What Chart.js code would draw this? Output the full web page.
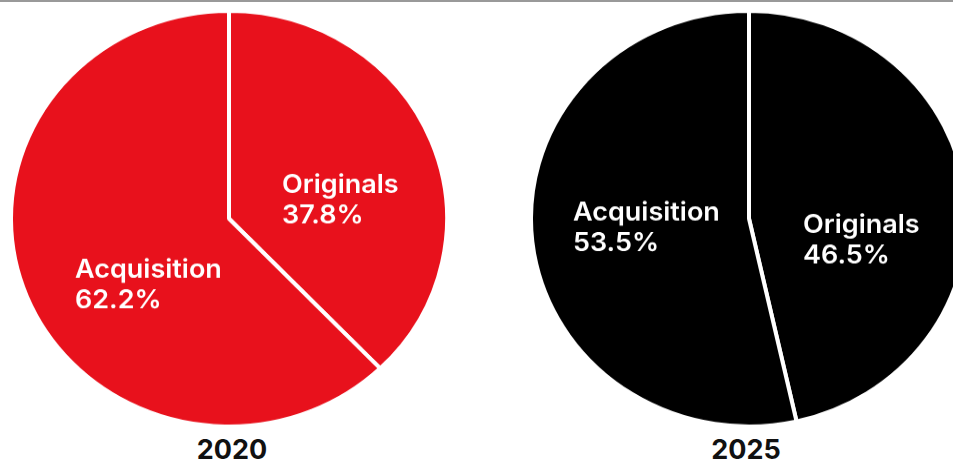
<!DOCTYPE html>
<html>
<head>
<meta charset="utf-8">
<script src="https://cdn.jsdelivr.net/npm/chart.js@4.4.1/dist/chart.umd.min.js"></script>
<style>
  html, body { margin: 0; padding: 0; width: 953px; height: 461px; overflow: hidden; background: #fff; }
  .topline { position: absolute; left: 0; top: 0; width: 953px; height: 2px; background: #999; }
  .pie { position: absolute; top: 9px; width: 440px; height: 440px; transform: scaleY(0.953); transform-origin: 0 0; }
  .year { position: absolute; top: 436px; width: 120px; text-align: center; font: 700 27px Inter, sans-serif; line-height: 27px; color: #111; }
</style>
</head>
<body>
<div class="topline"></div>
<div class="pie" style="left:9px"><canvas id="pie0" width="440" height="440"></canvas></div>
<div class="pie" style="left:529px"><canvas id="pie1" width="440" height="440"></canvas></div>
<script>
const categories = ['Originals', 'Acquisition'];
const years = ['2020', '2025'];
const share2020 = [37.8, 62.2];
const share2025 = [46.5, 53.5];

// label block anchors, relative to the pie centre (left edge, first baseline)
const labelSpots = [
  [[53, -27], [-154, 62]],
  [[54, 15], [-176, 2]]
];
const yearCenters = [232, 746];

const sliceLabels = {
  id: 'sliceLabels',
  afterDatasetsDraw(chart, args, opts) {
    const ctx = chart.ctx;
    const meta = chart.getDatasetMeta(0);
    const values = chart.data.datasets[0].data;
    ctx.save();
    ctx.fillStyle = '#fff';
    ctx.font = '600 27px Inter, sans-serif';
    ctx.textAlign = 'left';
    ctx.textBaseline = 'alphabetic';
    meta.data.forEach((arc, i) => {
      const x = arc.x + opts.spots[i][0];
      const y = arc.y + opts.spots[i][1];
      ctx.fillText(chart.data.labels[i], x, y);
      ctx.fillText(values[i].toFixed(1) + '%', x, y + 31.5);
    });
    ctx.restore();
  }
};

function makePie(id, values, color, spots) {
  return new Chart(document.getElementById(id), {
    type: 'pie',
    data: {
      labels: categories,
      datasets: [{
        data: values,
        backgroundColor: [color, color],
        borderColor: '#fff',
        borderWidth: 4
      }]
    },
    options: {
      responsive: false,
      animation: false,
      events: [],
      layout: { padding: 0 },
      plugins: {
        legend: { display: false },
        tooltip: { enabled: false },
        sliceLabels: { spots: spots }
      }
    },
    plugins: [sliceLabels]
  });
}

makePie('pie0', share2020, '#e8111c', labelSpots[0]);
makePie('pie1', share2025, '#000000', labelSpots[1]);

years.forEach((y, i) => {
  const d = document.createElement('div');
  d.className = 'year';
  d.textContent = y;
  d.style.left = (yearCenters[i] - 60) + 'px';
  document.body.appendChild(d);
});
</script>
</body>
</html>
